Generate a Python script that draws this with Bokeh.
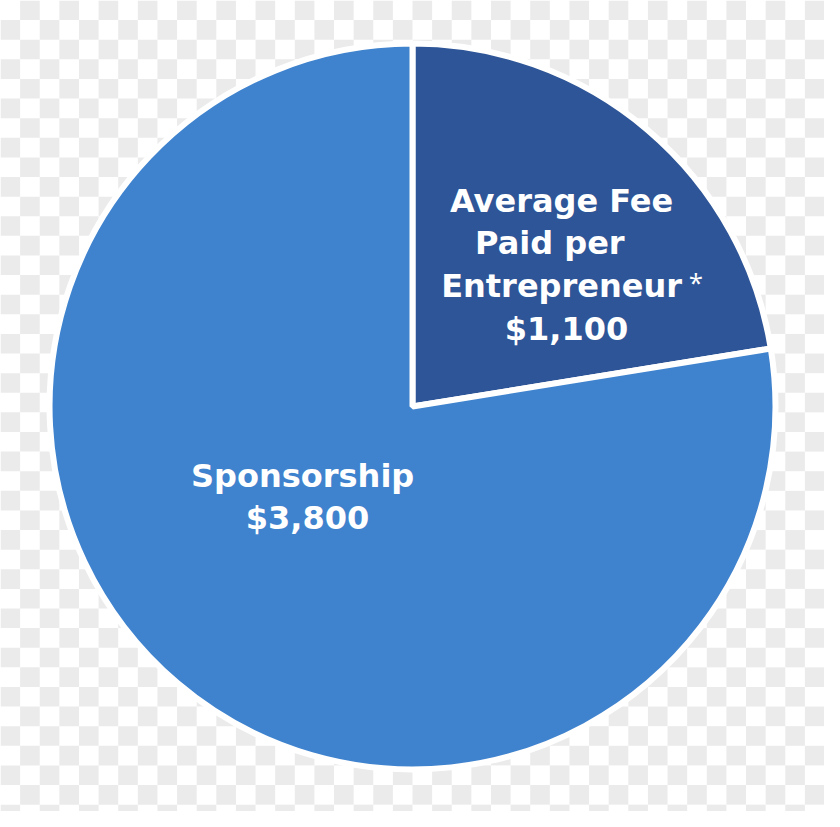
import numpy as np
from bokeh.plotting import figure
from bokeh.models import Range1d
from bokeh.core.properties import value
from bokeh.embed import file_html
from bokeh.resources import INLINE

# ---- data ----
categories = ["Average Fee Paid per Entrepreneur", "Sponsorship"]
amounts = [1100, 3800]
slice_colors = ["#2d5597", "#3f83ce"]
label_lines = [["Average Fee", "Paid per", "Entrepreneur", "$1,100"],
               ["Sponsorship", "$3,800"]]

W, H = 824, 811
RW, RH = 840, 827  # reference frame in data units
p = figure(width=W, height=H, output_backend="svg", toolbar_location=None,
           x_range=Range1d(0, RW), y_range=Range1d(0, RH), min_border=0)
p.axis.visible = False
p.grid.visible = False
p.outline_line_color = None
p.background_fill_color = "#ffffff"
p.border_fill_color = "#ffffff"

# checkerboard backdrop (transparency pattern)
cols, rows = np.meshgrid(np.arange(42), np.arange(42))
mask = ((cols + rows) % 2) == 1
cx = (cols[mask] * 20 + 10).astype(float)
cy = RH - (rows[mask] * 20 + 10).astype(float)
p.rect(x=cx, y=cy, width=20, height=20, fill_color="#ebebeb", line_color=None)

# pie
CX, CY, R = 420, RH - 414, 370
vals = np.array(amounts, dtype=float)
frac = vals / vals.sum()
cum = np.concatenate([[0], np.cumsum(frac)])
start = np.pi / 2 - 2 * np.pi * cum[:-1]
end = np.pi / 2 - 2 * np.pi * cum[1:]
p.wedge(x=[CX] * len(vals), y=[CY] * len(vals), radius=R,
        start_angle=start, end_angle=end, direction="clock",
        fill_color=slice_colors, line_color="white", line_width=6)

font = value("DejaVu Sans")
# fee label
fee_y = [204, 247, 291, 335]
fee_x = [572, 560, 572, 577]
p.text(x=fee_x, y=[RH - v for v in fee_y], text=label_lines[0],
       text_align="center", text_baseline="middle", text_color="white",
       text_font=font, text_font_style="bold", text_font_size="32px")
p.text(x=[709], y=[RH - 287], text=["*"], text_align="center",
       text_baseline="middle", text_color="white", text_font=value("Open Sans"),
       text_font_size="26px")
# sponsorship label
sp_y = [485, 528]
sp_x = [308, 313]
p.text(x=sp_x, y=[RH - v for v in sp_y], text=label_lines[1],
       text_align="center", text_baseline="middle", text_color="white",
       text_font=font, text_font_style="bold", text_font_size="32px")

open("out.html", "w").write(file_html(p, INLINE))
